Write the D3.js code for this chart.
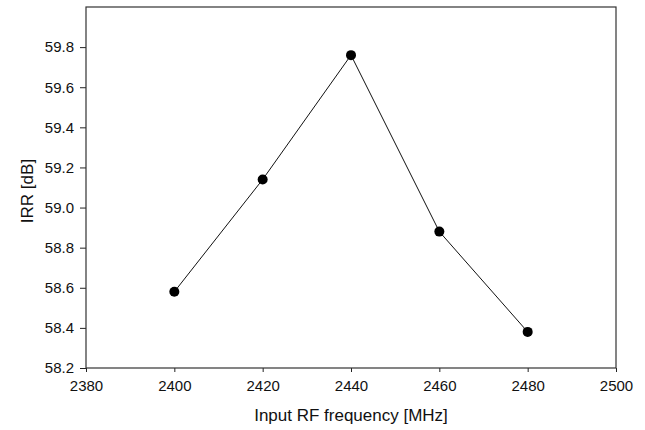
<!DOCTYPE html>
<head>
<meta charset="utf-8">
<script src="https://d3js.org/d3.v7.min.js"></script>
<style>
body { margin: 0; background: #fff; }
text { font-family: Arial, "Liberation Sans", sans-serif; fill: #111; }
.tick text { font-size: 15px; }
.label { font-size: 17px; }
.axis path { display: none; }
.tick line { stroke: #222; }
</style>
</head>
<body>
<script>
// frequency (MHz) and IRR (dB)
var freq = [2400, 2420, 2440, 2460, 2480];
var irr = [58.58, 59.14, 59.76, 58.88, 58.38];
var xTicks = [2380, 2400, 2420, 2440, 2460, 2480, 2500];
var yTicks = [58.2, 58.4, 58.6, 58.8, 59.0, 59.2, 59.4, 59.6, 59.8];

var margin = { top: 7, right: 29, bottom: 62, left: 86 };
var width = 645 - margin.left - margin.right;
var height = 430 - margin.top - margin.bottom;

var svg = d3.select("body").append("svg")
    .attr("width", 645)
    .attr("height", 430)
    .append("g")
    .attr("transform", "translate(" + margin.left + "," + margin.top + ")");

var x = d3.scaleLinear().domain([2380, 2500]).range([0, width]);
var y = d3.scaleLinear().domain([58.2, 60.0]).range([height, 0]);

svg.append("g")
    .attr("class", "axis")
    .attr("transform", "translate(0," + height + ")")
    .call(d3.axisBottom(x).tickValues(xTicks).tickSize(4).tickPadding(8).tickFormat(d3.format("d")));

svg.append("g")
    .attr("class", "axis")
    .call(d3.axisLeft(y).tickValues(yTicks).tickSize(6).tickPadding(6).tickFormat(d3.format(".1f")));

// frame
svg.append("rect")
    .attr("width", width)
    .attr("height", height)
    .attr("fill", "none")
    .attr("stroke", "#333")
    .attr("stroke-width", 1.2);

var data = freq.map(function(f, i) { return { f: f, v: irr[i] }; });

svg.append("path")
    .datum(data)
    .attr("fill", "none")
    .attr("stroke", "#111")
    .attr("stroke-width", 1)
    .attr("d", d3.line().x(function(d) { return x(d.f); }).y(function(d) { return y(d.v); }));

svg.selectAll(".dot")
    .data(data)
    .enter().append("circle")
    .attr("class", "dot")
    .attr("cx", function(d) { return x(d.f); })
    .attr("cy", function(d) { return y(d.v); })
    .attr("r", 5)
    .attr("fill", "#000");

svg.append("text")
    .attr("class", "label")
    .attr("x", width / 2)
    .attr("y", height + 53)
    .style("text-anchor", "middle")
    .text("Input RF frequency [MHz]");

svg.append("text")
    .attr("class", "label")
    .attr("transform", "rotate(-90)")
    .attr("x", -(191 - margin.top))
    .attr("y", -53)
    .style("text-anchor", "middle")
    .text("IRR [dB]");
</script>
</body>
